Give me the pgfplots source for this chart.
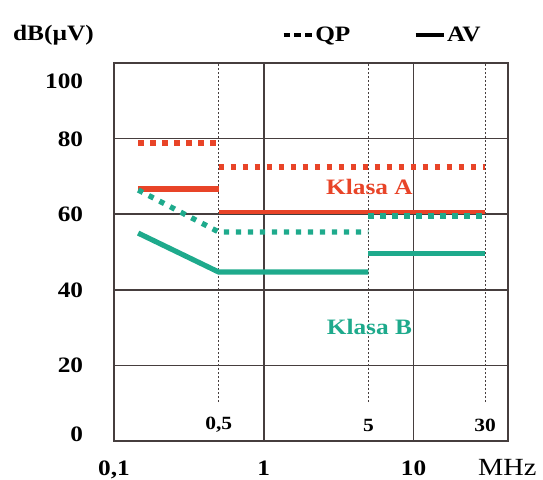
\documentclass[border=0pt]{standalone}
\usepackage{pgfplots}
\pgfplotsset{compat=1.18}
\usepackage{fontspec}
\setmainfont{Liberation Serif}[FakeStretch=1.15]

\definecolor{cred}{RGB}{232,68,40}
\definecolor{cteal}{RGB}{30,170,140}
\definecolor{gridc}{RGB}{70,62,62}

\begin{document}
\begin{tikzpicture}
\useasboundingbox (-85.5pt,-28.5pt) rectangle (321.75pt,330.75pt);
\begin{axis}[
  scale only axis, width=295.5pt, height=283.5pt,
  xmode=log, xmin=0.1, xmax=42.7, ymin=0, ymax=100,
  xtick={0.1,1,10}, xticklabels={{0,1},1,10},
  ytick={0,20,40,60,80,100},
  yticklabels={\raisebox{5pt}{0},20,40,60,80,\raisebox{-13.5pt}{100}},
  major tick length=0pt, minor tick length=0pt,
  tick label style={font=\bfseries\fontsize{16.5}{16.5}\selectfont, inner sep=0pt},
  yticklabel style={anchor=base east, xshift=-23pt, yshift=-5.6pt},
  xticklabel style={anchor=base, yshift=-25.5pt},
  grid=major, major grid style={gridc, line width=1.2pt},
  axis line style={gridc, line width=1.2pt},
  clip=false,
  legend columns=2,
  legend image code/.code={\draw[#1] (0pt,0pt) -- (21pt,0pt);},
  legend style={draw=none, fill=none, inner sep=0pt, at={(0.426,1.074)}, anchor=west,
    font=\bfseries\fontsize{16.5}{16.5}\selectfont,
    nodes={inner sep=1.5pt},
    /tikz/every even column/.append style={column sep=46pt}},
]
\addlegendimage{black, line width=2.4pt, dash pattern=on 5pt off 3pt}
\addlegendentry{QP}
\addlegendimage{black, line width=2.6pt}
\addlegendentry{AV}

% vertical dotted markers
\addplot[forget plot, gridc, line width=0.8pt, dash pattern=on 1.5pt off 1.5pt] coordinates {(0.5,10.3) (0.5,100)};
\addplot[forget plot, gridc, line width=0.8pt, dash pattern=on 1.5pt off 1.5pt] coordinates {(5,10.3) (5,100)};
\addplot[forget plot, gridc, line width=0.8pt, dash pattern=on 1.5pt off 1.5pt] coordinates {(30,10.3) (30,100)};

% Klasa A QP
\addplot[forget plot, cred, line width=4pt, dash pattern=on 4pt off 5pt] coordinates {(0.145,78.8) (0.5,78.8)};
\addplot[forget plot, cred, line width=4pt, dash pattern=on 4pt off 5pt] coordinates {(0.5,72.5) (30,72.5)};
% Klasa A AV
\addplot[forget plot, cred, line width=4.5pt] coordinates {(0.145,66.7) (0.5,66.7)};
\addplot[forget plot, cred, line width=3pt] coordinates {(0.5,60.5) (30,60.5)};
% Klasa B QP
\addplot[forget plot, cteal, line width=4pt, dash pattern=on 4pt off 5pt] coordinates {(0.145,66.4) (0.5,55.3) (5,55.3)};
\addplot[forget plot, cteal, line width=4pt, dash pattern=on 4pt off 5pt] coordinates {(5,59.5) (30,59.5)};
% Klasa B AV
\addplot[forget plot, cteal, line width=3.9pt] coordinates {(0.145,55) (0.5,44.7) (5,44.7)};
\addplot[forget plot, cteal, line width=3.9pt] coordinates {(5,49.7) (30,49.7)};

\node[font=\bfseries\fontsize{16.5}{16.5}\selectfont, text=cred] at (axis cs:5.07,67.2) {Klasa A};
\node[font=\bfseries\fontsize{16.5}{16.5}\selectfont, text=cteal] at (axis cs:5.07,30.2) {Klasa B};

\node[font=\bfseries\fontsize{14}{14}\selectfont] at (axis cs:0.5,4.2) {0,5};
\node[font=\bfseries\fontsize{14}{14}\selectfont] at (axis cs:5,4.2) {5};
\node[font=\bfseries\fontsize{14}{14}\selectfont] at (axis cs:30,4.2) {30};

\node[font=\bfseries\fontsize{16.5}{16.5}\selectfont, xshift=-45.4pt, yshift=21pt] at (rel axis cs:0,1) {dB(µV)};
\node[font=\fontsize{18.5}{18.5}\selectfont, xshift=-0.5pt, yshift=-19.5pt] at (rel axis cs:1,0) {MHz};
\end{axis}
\end{tikzpicture}
\end{document}
